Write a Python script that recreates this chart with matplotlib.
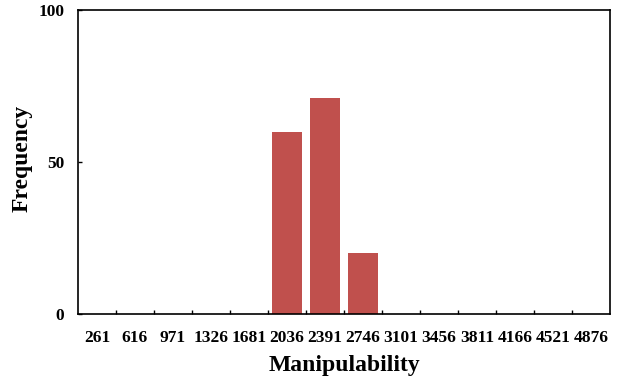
import matplotlib
matplotlib.use("Agg")
import matplotlib.pyplot as plt
import numpy as np

categories = ["261", "616", "971", "1326", "1681", "2036", "2391", "2746",
              "3101", "3456", "3811", "4166", "4521", "4876"]
frequency = [0, 0, 0, 0, 0, 60, 71, 20, 0, 0, 0, 0, 0, 0]

plt.rcParams['font.family'] = ['Liberation Serif', 'DejaVu Serif']
plt.rcParams['font.weight'] = 'bold'

fig = plt.figure(figsize=(6.18, 3.81), dpi=100)
ax = fig.add_axes([78/618, 1-314/381, 532/618, 304/381])

x = np.arange(len(categories))
ax.bar(x, frequency, width=0.8, color='#C0504D', edgecolor='none')

ax.set_xlim(-0.5, len(categories) - 0.5)
ax.set_ylim(0, 100)
ax.set_xticks(x)
ax.set_xticklabels(categories, fontsize=12.5, fontweight='bold')
ax.tick_params(axis='x', which='major', length=0, pad=11.5)
ax.set_xticks(np.arange(0.5, len(categories) - 0.5, 1), minor=True)
ax.tick_params(axis='x', which='minor', direction='in', length=3, width=1)

ax.set_yticks([0, 50, 100])
ax.set_yticklabels(["0", "50", "100"], fontsize=12.5, fontweight='bold')
ax.tick_params(axis='y', direction='in', length=3, width=1, pad=10)

for s in ax.spines.values():
    s.set_linewidth(1.2)

ax.set_xlabel("Manipulability", fontsize=17, fontweight='bold')
ax.xaxis.set_label_coords((344 - 78) / 532, -(365 - 314) / 304)
ax.xaxis.label.set_va('center')
ax.set_ylabel("Frequency", fontsize=17, fontweight='bold')
ax.yaxis.set_label_coords(-(78 - 22) / 532, (314 - 158) / 304)
ax.yaxis.label.set_va('center')

fig.savefig("out.png", dpi=100)
